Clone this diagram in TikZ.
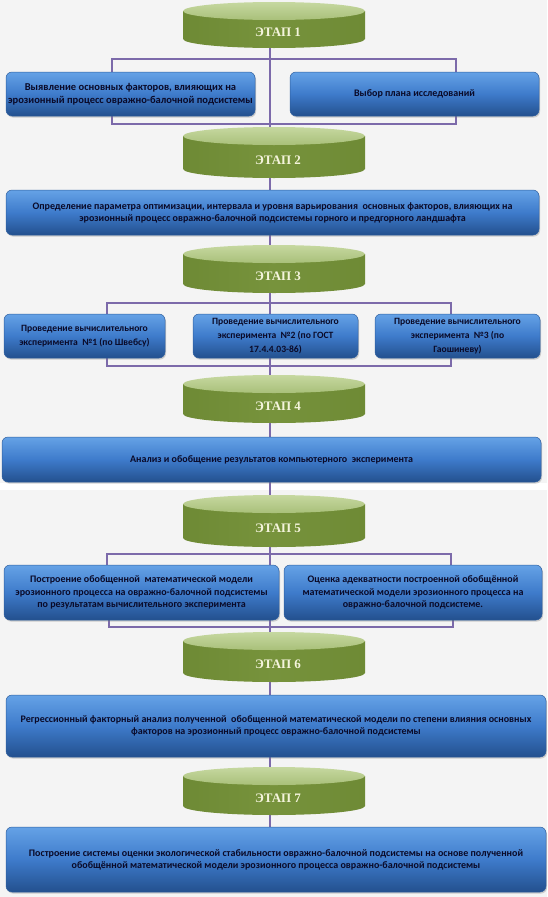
\documentclass[tikz,border=0pt]{standalone}
\usepackage{fontspec}
\setmainfont{Carlito}
\newfontfamily\stagefont{Liberation Serif}
\usetikzlibrary{shadows}
\definecolor{bgc}{HTML}{F4F4F4}
\definecolor{bTop}{HTML}{65A2E6}
\definecolor{bMid}{HTML}{3E7BCB}
\definecolor{bBot}{HTML}{23508E}
\definecolor{bEdge}{HTML}{2F5F9E}
\definecolor{txt}{HTML}{0A0A28}
\definecolor{gBody}{HTML}{77933C}
\definecolor{gBodyL}{HTML}{6E8A35}
\definecolor{gTopA}{HTML}{C6D8A0}
\definecolor{gTopB}{HTML}{A9C07A}
\definecolor{stTxt}{HTML}{F4F4DC}
\definecolor{conc}{HTML}{7C6AAA}
\pgfdeclarelayer{back}
\pgfsetlayers{back,main}
\tikzset{
  bluebox/.style={rounded corners=6pt, top color=bTop, bottom color=bBot, middle color=bMid,
    draw=bEdge, line width=0.5pt,
    drop shadow={opacity=0.35, shadow xshift=1pt, shadow yshift=-1.5pt},
    font=\bfseries\fontsize{10}{12}\selectfont, text=txt, align=center, inner sep=0pt},
  topbox/.style={font=\bfseries\fontsize{10.5}{13}\selectfont},
  expbox/.style={font=\bfseries\fontsize{9.6}{14}\selectfont},
  modbox/.style={font=\bfseries\fontsize{10}{12.5}\selectfont},
  stagebox/.style={minimum width=182pt, inner sep=0pt, outer sep=0pt},
  stagelabel/.style={font=\stagefont\bfseries\fontsize{13}{15}\selectfont, text=stTxt, inner sep=0pt},
  conn/.style={draw=conc, line width=1.1pt}
}
\newcommand\stagecyl[4]{%
  \pgfmathsetmacro\ctop{#2+9}%
  \pgfmathsetmacro\cbot{#3-9}%
  \pgfmathsetmacro\cmid{(#2+#3)/2}%
  \pgfmathsetmacro\lab{(\ctop+#3)/2+3}%
  \shade[left color=gBodyL, right color=gBodyL, middle color=gBody]
    (183,\ctop) -- (183,\cbot) arc[start angle=180, end angle=360, x radius=91pt, y radius=9pt]
    -- (365,\ctop) -- cycle;
  \shade[top color=gTopA, bottom color=gTopB] (274,\ctop) ellipse [x radius=91pt, y radius=9pt];
  \node[stagebox, minimum height={(#3-#2)*1pt}] (#1) at (270,\cmid) {};
  \node[stagelabel] (#1t) at (278,\lab) {#4};
}
\begin{document}
\begin{tikzpicture}[x=1pt,y=-1pt]
\useasboundingbox (0,0) rectangle (547,897);
\begin{pgfonlayer}{back}
\fill[bgc] (0,0) rectangle (547,897);
\fill[white] (0,483) rectangle (547,490);
\end{pgfonlayer}

% stages
\stagecyl{s1}{2}{48}{ЭТАП 1}
\stagecyl{s2}{127}{178}{ЭТАП 2}
\stagecyl{s3}{245}{293}{ЭТАП 3}
\stagecyl{s4}{375}{423}{ЭТАП 4}
\stagecyl{s5}{495}{547}{ЭТАП 5}
\stagecyl{s6}{632}{682}{ЭТАП 6}
\stagecyl{s7}{767}{815}{ЭТАП 7}

% boxes
\node[bluebox, topbox, minimum width=249pt, minimum height=44pt] (b1l) at (130.5,94)
  {Выявление основных факторов, влияющих на\\эрозионный процесс овражно-балочной подсистемы};
\node[bluebox, minimum width=249pt, minimum height=44pt] (b1r) at (414.5,94)
  {Выбор плана исследований};
\node[bluebox, minimum width=533pt, minimum height=45pt] (b2) at (272.5,212.5)
  {Определение параметра оптимизации, интервала и уровня варьирования\ \ основных факторов, влияющих на\\эрозионный процесс овражно-балочной подсистемы горного и предгорного ландшафта};
\node[bluebox, expbox, minimum width=161pt, minimum height=44pt] (b3a) at (84.5,336)
  {Проведение вычислительного\\эксперимента\ \ №1 (по Швебсу)};
\node[bluebox, expbox, minimum width=165pt, minimum height=44pt] (b3b) at (275.5,336)
  {Проведение вычислительного\\эксперимента\ \ №2 (по ГОСТ\\17.4.4.03-86)};
\node[bluebox, expbox, minimum width=165pt, minimum height=44pt] (b3c) at (457.5,336)
  {Проведение вычислительного\\эксперимента\ \ №3 (по\\Гаошиневу)};
\node[bluebox, minimum width=539pt, minimum height=45pt] (b4) at (271.5,459.5)
  {Анализ и обобщение результатов компьютерного\ \ эксперимента};
\node[bluebox, modbox, minimum width=275pt, minimum height=55pt] (b5l) at (141.5,592.5)
  {Построение обобщенной\ \ математической модели\\эрозионного процесса на овражно-балочной подсистемы\\по результатам вычислительного эксперимента};
\node[bluebox, modbox, minimum width=258pt, minimum height=55pt] (b5r) at (413,592.5)
  {Оценка адекватности построенной обобщённой\\математической модели эрозионного процесса на\\овражно-балочной подсистеме.};
\node[bluebox, minimum width=540pt, minimum height=62pt] (b6) at (276,726)
  {Регрессионный факторный анализ полученной\ \ обобщенной математической модели по степени влияния основных\\факторов на эрозионный процесс овражно-балочной подсистемы};
\node[bluebox, minimum width=540pt, minimum height=65pt] (b7) at (276,859.5)
  {Построение системы оценки экологической стабильности овражно-балочной подсистемы на основе полученной\\обобщённой математической модели эрозионного процесса овражно-балочной подсистемы};

% bus coordinates
\coordinate (t1L) at (112,59);  \coordinate (t1R) at (456,59);
\coordinate (u1L) at (112,124); \coordinate (u1R) at (456,124);
\coordinate (t3L) at (107,303); \coordinate (t3R) at (451,303);
\coordinate (u3L) at (107,366); \coordinate (u3R) at (451,366);
\coordinate (t5L) at (107,554); \coordinate (t5R) at (451,554);
\coordinate (u5L) at (109,627); \coordinate (u5R) at (453,627);

\begin{pgfonlayer}{back}
\draw[conn] (s1.south) -- (s2.north);
\draw[conn] (s2.south) -- (s3.north);
\draw[conn] (s3.south) -- (s4.north);
\draw[conn] (s4.south) -- (s5.north);
\draw[conn] (s5.south) -- (s6.north);
\draw[conn] (s6.south) -- (s7.north);
\draw[conn] (s7.south) -- (s7.south |- b7.north);
\draw[conn] (b1l.north -| t1L) -- (t1L) -- (t1R) -- (b1r.north -| t1R);
\draw[conn] (b1l.south -| u1L) -- (u1L) -- (u1R) -- (b1r.south -| u1R);
\draw[conn] (b3a.north -| t3L) -- (t3L) -- (t3R) -- (b3c.north -| t3R);
\draw[conn] (b3a.south -| u3L) -- (u3L) -- (u3R) -- (b3c.south -| u3R);
\draw[conn] (b5l.north -| t5L) -- (t5L) -- (t5R) -- (b5r.north -| t5R);
\draw[conn] (b5l.south -| u5L) -- (u5L) -- (u5R) -- (b5r.south -| u5R);
\end{pgfonlayer}
\end{tikzpicture}
\end{document}
